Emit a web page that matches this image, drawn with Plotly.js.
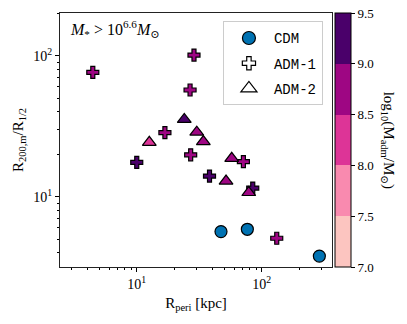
<!DOCTYPE html>
<html>
<head>
<meta charset="utf-8">
<script src="https://cdn.plot.ly/plotly-3.0.1.min.js"></script>
<style>
  html, body { margin: 0; padding: 0; background: #fff; }
  #chart { width: 407px; height: 324px; }
</style>
</head>
<body>
<div id="chart"></div>
<script>
// values
const cdmPeri = [47.2, 76.7, 289];
const cdmRatio = [5.65, 5.87, 3.79];

const adm1Peri = [4.45, 28.7, 26.7, 16.8, 10.0, 27.0, 38.2, 71.3, 84.7, 131.8];
const adm1Ratio = [76.2, 101, 57.1, 28.5, 17.5, 19.8, 14.0, 17.7, 11.5, 5.07];
const adm1Mass = [8.75, 8.75, 8.75, 8.75, 9.25, 8.75, 9.25, 8.75, 9.25, 8.75];

const adm2Peri = [24.0, 12.6, 30.2, 34.1, 57.5, 51.8, 78.7];
const adm2Ratio = [35.3, 24.3, 28.7, 24.6, 18.7, 12.9, 10.7];
const adm2Mass = [9.25, 8.25, 8.75, 8.75, 8.75, 8.75, 8.75];

const binColors = ['#fcc5c0', '#f98aaf', '#dd3497', '#9e0683', '#4a006a'];
const cbTicks = [7.0, 7.5, 8.0, 8.5, 9.0, 9.5];

// stepped colour scale, one band per 0.5 dex
const discreteScale = [];
binColors.forEach((c, i) => {
    discreteScale.push([i / binColors.length, c]);
    discreteScale.push([(i + 1) / binColors.length, c]);
});

// minor ticks of the log axes
function minorTicks(lo, hi) {
    const out = [];
    for (let d = lo; d < hi; d *= 10) {
        for (let k = 2; k <= 9; k++) out.push(d * k);
    }
    return out;
}

const serif = 'Liberation Serif, DejaVu Serif, serif';
const mono = 'Liberation Mono, DejaVu Sans Mono, monospace';
const edge = { color: '#000', width: 1.2 };

const data = [
    {
        x: cdmPeri, y: cdmRatio, type: 'scatter', mode: 'markers',
        name: 'CDM', showlegend: false,
        marker: { symbol: 'circle', size: 12, color: '#0072b2', line: edge }
    },
    {
        x: adm1Peri, y: adm1Ratio, type: 'scatter', mode: 'markers',
        name: 'ADM-1', showlegend: false,
        marker: {
            symbol: 'cross', size: 10, color: adm1Mass,
            colorscale: discreteScale, cmin: 7, cmax: 9.5,
            line: edge,
            showscale: true,
            colorbar: {
                x: 1.01, xanchor: 'left', xpad: 0,
                y: 0.5, yanchor: 'middle', ypad: 0,
                len: 1, lenmode: 'fraction',
                thickness: 16, thicknessmode: 'pixels',
                outlinewidth: 1, outlinecolor: '#000',
                tickmode: 'array', tickvals: cbTicks,
                ticktext: cbTicks.map(v => v.toFixed(1)),
                ticks: 'outside', ticklen: 4, tickcolor: '#000',
                tickfont: { family: serif, size: 13, color: '#000' }
            }
        }
    },
    {
        x: adm2Peri, y: adm2Ratio, type: 'scatter', mode: 'markers',
        name: 'ADM-2', showlegend: false,
        marker: {
            symbol: 'triangle-up', size: 12, color: adm2Mass,
            colorscale: discreteScale, cmin: 7, cmax: 9.5,
            showscale: false, line: edge
        }
    },
    // legend entries (open symbols, as in the reference)
    {
        x: [null], y: [null], type: 'scatter', mode: 'markers', name: 'CDM',
        legendgroup: 'a',
        marker: { symbol: 'circle', size: 13, color: '#0072b2', line: edge }
    },
    {
        x: [null], y: [null], type: 'scatter', mode: 'markers', name: 'ADM-1',
        legendgroup: 'b',
        marker: { symbol: 'cross', size: 11, color: '#fff', line: edge }
    },
    {
        x: [null], y: [null], type: 'scatter', mode: 'markers', name: 'ADM-2',
        legendgroup: 'c',
        marker: { symbol: 'triangle-up', size: 14, color: '#fff', line: edge }
    }
];

const axisCommon = {
    type: 'log',
    showgrid: false, zeroline: false,
    showline: true, linecolor: '#222', linewidth: 1, mirror: true,
    ticks: 'outside', ticklen: 4, tickcolor: '#000',
    tickmode: 'array', tickvals: [10, 100],
    ticktext: ['10<sup>1</sup>', '10<sup>2</sup>'],
    tickfont: { family: serif, size: 14, color: '#000' }
};

const layout = {
    width: 407, height: 324,
    margin: { l: 60, r: 75, t: 13, b: 57 },
    paper_bgcolor: '#fff', plot_bgcolor: '#fff',
    font: { family: serif, color: '#000' },
    xaxis: Object.assign({}, axisCommon, {
        range: [0.386, 2.562],
        minor: { tickmode: 'array', tickvals: minorTicks(1, 1000), ticks: 'outside', ticklen: 2, tickcolor: '#000' },
        title: { text: 'R<sub>peri</sub> [kpc]', font: { family: serif, size: 15 }, standoff: 6 }
    }),
    yaxis: Object.assign({}, axisCommon, {
        range: [0.501, 2.303],
        minor: { tickmode: 'array', tickvals: minorTicks(1, 1000), ticks: 'outside', ticklen: 2, tickcolor: '#000' },
        title: { text: 'R<sub>200,m</sub>/R<sub>1/2</sub>', font: { family: serif, size: 15 }, standoff: 6 }
    }),
    showlegend: true,
    legend: {
        x: 0.599, xanchor: 'left', y: 0.967, yanchor: 'top',
        bgcolor: 'rgba(255,255,255,0.9)', bordercolor: '#cccccc', borderwidth: 1,
        font: { family: mono, size: 14, color: '#000' },
        itemwidth: 40, traceorder: 'grouped', tracegroupgap: 4
    },
    annotations: [
        {
            xref: 'paper', yref: 'paper', x: 0.03, y: 0.99,
            xanchor: 'left', yanchor: 'top', showarrow: false,
            text: '<i>M</i><sub>*</sub> > 10<sup>6.6</sup><i>M</i><sub>⊙</sub>',
            font: { family: serif, size: 16, color: '#000' }
        },
        {
            xref: 'paper', yref: 'paper', x: 1.207, y: 0.5,
            xanchor: 'center', yanchor: 'middle', showarrow: false,
            textangle: 90,
            text: 'log<sub>10</sub>(M<sub>adm</sub>/M<sub>⊙</sub>)',
            font: { family: serif, size: 15, color: '#000' }
        }
    ]
};

Plotly.newPlot('chart', data, layout, { displayModeBar: false, staticPlot: true });
</script>
</body>
</html>
